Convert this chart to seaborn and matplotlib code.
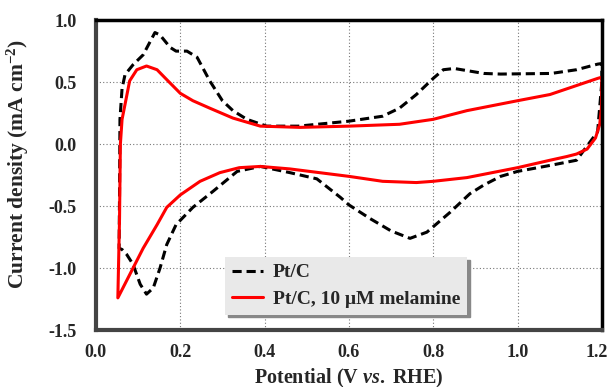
import matplotlib
matplotlib.use("Agg")
import matplotlib.pyplot as plt
import matplotlib.transforms as mtransforms
import seaborn as sns

# ---- data ----
ptc_x = [1.20, 1.19, 1.14, 1.08, 1.00, 0.96, 0.92, 0.887, 0.84, 0.785, 0.745, 0.70, 0.65, 0.60,
         0.58, 0.524, 0.46, 0.39, 0.335, 0.278, 0.23, 0.19, 0.168, 0.152, 0.136, 0.12, 0.105,
         0.088, 0.073, 0.062, 0.055, 0.056, 0.057, 0.062, 0.069, 0.088, 0.112, 0.14, 0.152,
         0.176, 0.19, 0.216, 0.24, 0.27, 0.30, 0.325, 0.358, 0.405, 0.48, 0.60, 0.68, 0.72,
         0.76, 0.80, 0.824, 0.85, 0.92, 0.96, 1.08, 1.14, 1.19, 1.20, 1.20]
ptc_y = [0.50, 0.10, -0.13, -0.17, -0.22, -0.26, -0.33, -0.40, -0.55, -0.71, -0.76, -0.70,
         -0.60, -0.49, -0.43, -0.28, -0.23, -0.18, -0.22, -0.38, -0.51, -0.65, -0.81, -1.00,
         -1.16, -1.21, -1.13, -0.97, -0.89, -0.85, -0.84, -0.40, 0.20, 0.45, 0.56, 0.64, 0.72,
         0.90, 0.88, 0.78, 0.75, 0.75, 0.70, 0.51, 0.35, 0.27, 0.20, 0.145, 0.145, 0.185, 0.225,
         0.29, 0.40, 0.53, 0.60, 0.61, 0.57, 0.565, 0.57, 0.60, 0.645, 0.65, 0.50]

mel_x = [1.20, 1.199, 1.195, 1.185, 1.165, 1.14, 1.117, 1.077, 1.00, 0.88, 0.80, 0.76, 0.68,
         0.60, 0.46, 0.39, 0.34, 0.294, 0.247, 0.20, 0.168, 0.145, 0.112, 0.088, 0.052,
         0.056, 0.058, 0.062, 0.069, 0.08, 0.097, 0.12, 0.145, 0.168, 0.20, 0.23, 0.27, 0.325,
         0.365, 0.39, 0.484, 0.60, 0.72, 0.80, 0.88, 1.00, 1.077, 1.19, 1.20]
mel_y = [0.54, 0.29, 0.16, 0.05, -0.04, -0.08, -0.10, -0.13, -0.19, -0.27, -0.30, -0.31, -0.30,
         -0.26, -0.20, -0.18, -0.19, -0.23, -0.30, -0.41, -0.51, -0.65, -0.84, -1.00, -1.24,
         -0.60, 0.00, 0.20, 0.32, 0.51, 0.60, 0.63, 0.60, 0.52, 0.41, 0.35, 0.29, 0.21, 0.17,
         0.145, 0.135, 0.145, 0.16, 0.20, 0.27, 0.35, 0.40, 0.53, 0.54]

labels = ["Pt/C", "Pt/C, 10 \u03bcM melamine"]
xticks = [0.0, 0.2, 0.4, 0.6, 0.8, 1.0, 1.2]
yticks = [-1.5, -1.0, -0.5, 0.0, 0.5, 1.0]

# ---- style ----
sns.set_style("white")
plt.rcParams["font.family"] = ["Liberation Serif", "DejaVu Serif"]
plt.rcParams["font.weight"] = "bold"
plt.rcParams["mathtext.fontset"] = "custom"
plt.rcParams["mathtext.rm"] = "Liberation Serif:bold"
plt.rcParams["mathtext.it"] = "Liberation Serif:italic:bold"
plt.rcParams["mathtext.bf"] = "Liberation Serif:bold"
plt.rcParams["axes.unicode_minus"] = False

fig = plt.figure(figsize=(6.11, 3.87), dpi=100)
ax = fig.add_axes([0.157, 0.147, 0.828, 0.801])

sns.lineplot(x=ptc_x, y=ptc_y, sort=False, estimator=None, ax=ax, color="black",
             linewidth=2.2, linestyle=(0, (3, 1.6)), label=labels[0])
sns.lineplot(x=mel_x, y=mel_y, sort=False, estimator=None, ax=ax, color="#ff0000",
             linewidth=2.2, label=labels[1])

ax.set_xlim(0.0, 1.2)
ax.set_ylim(-1.5, 1.0)
ax.set_xticks(xticks)
ax.set_yticks(yticks)
ax.set_xticklabels([f"{v:.1f}" for v in xticks])
ax.set_yticklabels([f"{v:.1f}" for v in yticks])
ax.tick_params(axis="both", length=0, labelsize=13)
ax.tick_params(axis="x", pad=10)
ax.tick_params(axis="y", pad=14)
for lab in ax.get_xticklabels() + ax.get_yticklabels():
    lab.set_fontweight("bold")
last = ax.get_xticklabels()[-1]
last.set_transform(last.get_transform() + mtransforms.ScaledTranslation(-0.05, 0, fig.dpi_scale_trans))

ax.grid(True, linestyle=(0, (1, 2)), color="#777777", linewidth=0.8)
for side in ["top", "right"]:
    ax.spines[side].set_color("black")
    ax.spines[side].set_linewidth(2.5)
for side in ["left", "bottom"]:
    ax.spines[side].set_color("#444444")
    ax.spines[side].set_linewidth(3)

ax.set_xlabel(r"Potential (V $\mathit{vs.}$ RHE)", fontsize=14.5, fontweight="bold", labelpad=4)
ax.set_ylabel(r"Current density (mA cm$^{-2}$)", fontsize=15.5, fontweight="bold")
ax.yaxis.set_label_coords(-0.128, 0.535)

leg = ax.legend(loc="lower left", bbox_to_anchor=(0.255, 0.05), frameon=True, fancybox=False,
                shadow={"color": "#888888", "alpha": 1.0}, facecolor="#e9e9e9", edgecolor="none",
                framealpha=1.0, prop={"family": "Liberation Serif", "weight": "bold", "size": 14},
                handlelength=1.6, handletextpad=0.5, borderpad=0.35, labelspacing=0.45,
                borderaxespad=0.0)

fig.savefig("out.png", dpi=100)
